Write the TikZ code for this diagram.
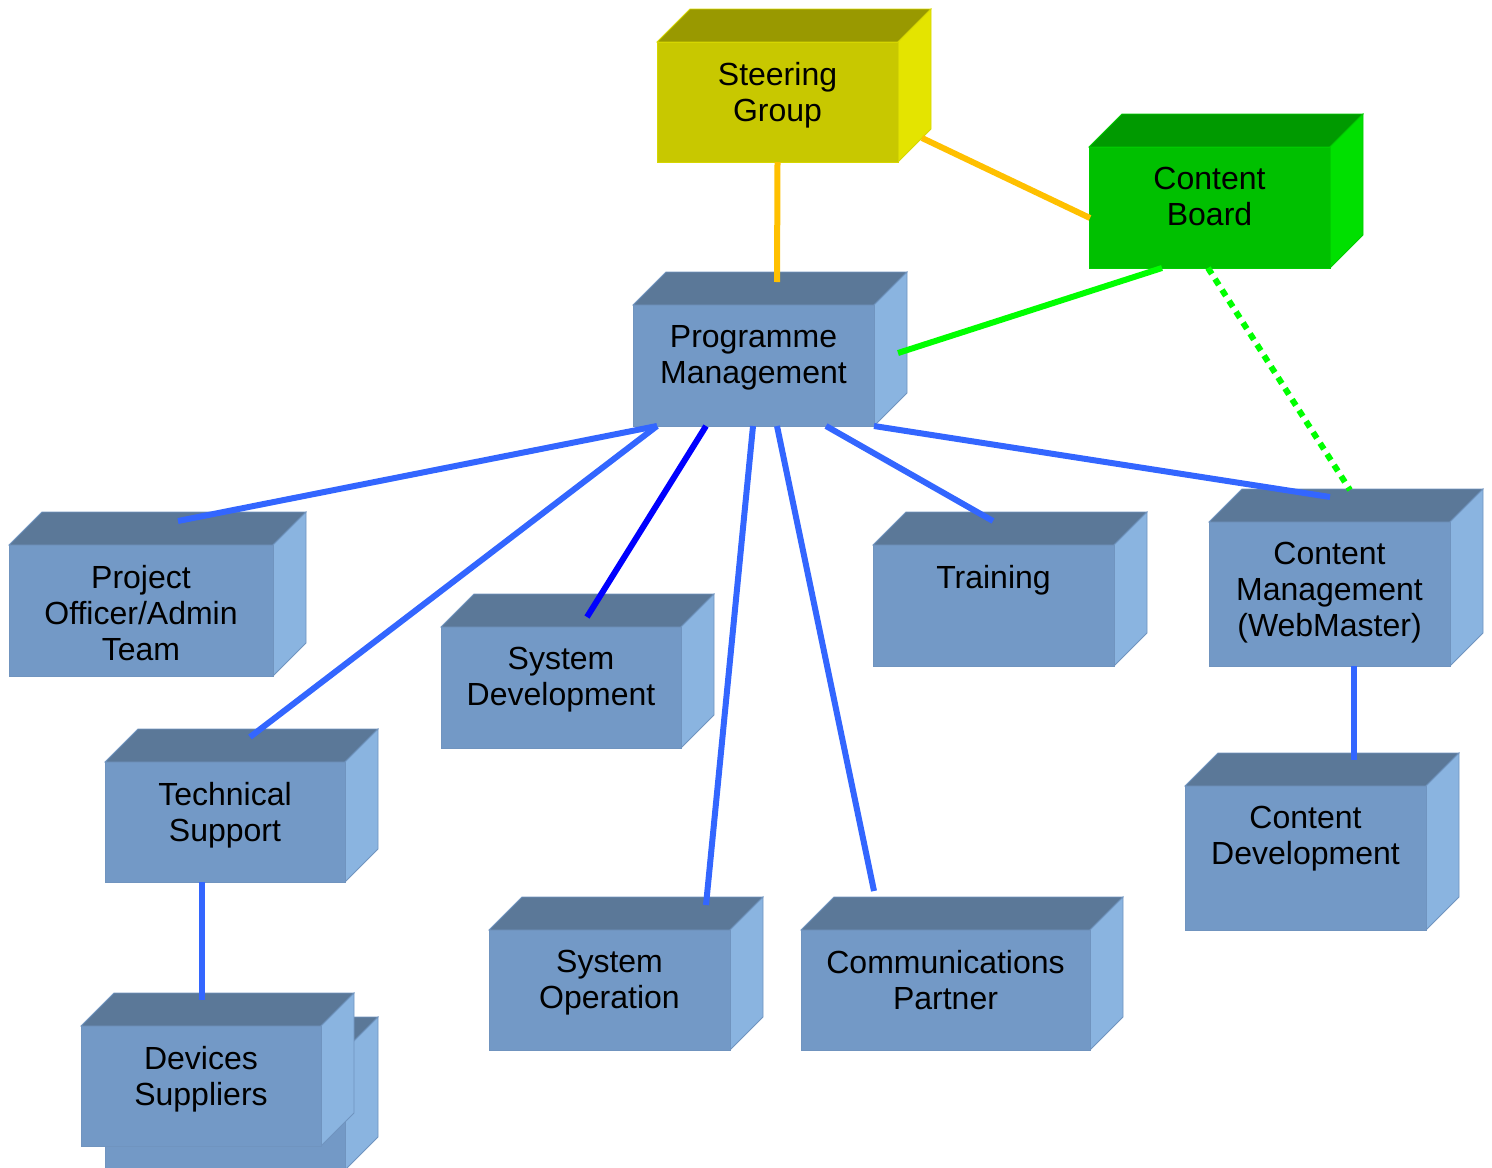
\documentclass[tikz,border=0pt]{standalone}
\usepackage{fontspec}
\setmainfont{Liberation Sans}
\usetikzlibrary{calc,fit}

% palettes: front, top, side and edge shades of each kind of block
\definecolor{bxFront}{HTML}{7399C6}
\definecolor{bxTop}{HTML}{5B7898}
\definecolor{bxSide}{HTML}{8AB4E0}
\definecolor{bxEdge}{HTML}{7094BF}
\definecolor{ywFront}{HTML}{C8C800}
\definecolor{ywTop}{HTML}{999900}
\definecolor{ywSide}{HTML}{E4E400}
\definecolor{ywEdge}{HTML}{D6D600}
\definecolor{gnFront}{HTML}{00C000}
\definecolor{gnTop}{HTML}{009A00}
\definecolor{gnSide}{HTML}{00E000}
\definecolor{gnEdge}{HTML}{00CC00}
\definecolor{linkBlue}{HTML}{3366FF}
\definecolor{linkDeep}{HTML}{0000FF}
\definecolor{linkOrange}{HTML}{FFC000}
\definecolor{linkGreen}{HTML}{00FF00}

\tikzset{
  boxlabel/.style={inner sep=0pt, align=center, text=black,
    font=\fontsize{16}{18}\selectfont},
  link/.style={line width=3pt, line cap=butt},
  bluelink/.style={link, draw=linkBlue},
  deeplink/.style={link, draw=linkDeep},
  orangelink/.style={link, draw=linkOrange},
  greenlink/.style={link, draw=linkGreen},
  dottedlink/.style={link, draw=linkGreen, dash pattern=on 3.5pt off 3pt},
}

% \solidbox{name}{x1}{y1}{x2}{y2}{palette}{label}
% front face spans (x1,y1)-(x2,y2); top and right faces are extruded by 33 units
\newcommand{\solidbox}[7]{%
  \filldraw[fill=#6Top, draw=#6Edge, line width=0.4pt]
    (#2,#3) -- ({#2+33},{#3-33}) -- ({#4+33},{#3-33}) -- (#4,#3) -- cycle;
  \filldraw[fill=#6Side, draw=#6Edge, line width=0.4pt]
    (#4,#3) -- ({#4+33},{#3-33}) -- ({#4+33},{#5-33}) -- (#4,#5) -- cycle;
  \path (#2,#3) coordinate (#1-nw) (#4,#5) coordinate (#1-se);
  \node[fit=(#1-nw)(#1-se), inner sep=0pt, outer sep=0pt,
        fill=#6Front, draw=#6Edge, line width=0.5pt] (#1) {};
  \node[boxlabel, anchor=north] (#1-label) at ($(#1.north)+(0,20)$) {#7};
}

\begin{document}
\begin{tikzpicture}[x=0.5pt, y=-0.5pt]
\useasboundingbox (0,0) rectangle (1492,1167);

% blocks
\solidbox{sg}{657}{42}{898}{162}{yw}{Steering\\Group}
\solidbox{cb}{1089}{147}{1330}{268}{gn}{Content\\Board}
\solidbox{pm}{633}{305}{874}{426}{bx}{Programme\\Management}
\solidbox{po}{9}{545}{273}{676}{bx}{Project\\Officer/Admin\\Team}
\solidbox{ts}{105}{762}{345}{882}{bx}{Technical\\Support}
\solidbox{dsback}{105}{1050}{345}{1170}{bx}{}
\solidbox{ds}{81}{1026}{321}{1146}{bx}{Devices\\Suppliers}
\solidbox{sd}{441}{627}{681}{748}{bx}{System\\Development}
\solidbox{so}{489}{930}{730}{1050}{bx}{System\\Operation}
\solidbox{cp}{801}{930}{1090}{1050}{bx}{Communications\\Partner}
\solidbox{tr}{873}{545}{1114}{666}{bx}{Training}
\solidbox{cm}{1209}{522}{1450}{666}{bx}{Content\\Management\\(WebMaster)}
\solidbox{cd}{1185}{786}{1426}{930}{bx}{Content\\Development}

% connector ends on the faces of the blocks
\coordinate (sg-down)  at (sg.south);
\coordinate (sg-side)  at ($(sg.south east)+(24,-24)$);
\coordinate (cb-left)  at ($(cb.north west)+(1,71)$);
\coordinate (cb-d1)    at ($(cb.south west)+(73,0)$);
\coordinate (cb-d2)    at ($(cb.south west)+(119,0)$);
\coordinate (pm-up)    at ($(pm.north west)+(144,-23)$);
\coordinate (pm-side)  at ($(pm.north east)+(24,48)$);
\coordinate (pm-d1)    at ($(pm.south west)+(24,0)$);
\coordinate (pm-d2)    at ($(pm.south west)+(73,0)$);
\coordinate (pm-d3)    at ($(pm.south west)+(120,0)$);
\coordinate (pm-d4)    at ($(pm.south west)+(144,0)$);
\coordinate (pm-d5)    at ($(pm.south west)+(193,0)$);
\coordinate (pm-d6)    at (pm.south east);
\coordinate (po-up)    at ($(po.north west)+(169,-24)$);
\coordinate (ts-up)    at ($(ts.north west)+(145,-25)$);
\coordinate (ts-down)  at ($(ts.south west)+(97,0)$);
\coordinate (ds-up)    at ($(ds.north west)+(121,-26)$);
\coordinate (sd-up)    at ($(sd.north west)+(146,-10)$);
\coordinate (so-up)    at ($(so.north west)+(217,-25)$);
\coordinate (cp-up)    at ($(cp.north west)+(73,-39)$);
\coordinate (tr-up)    at ($(tr.north west)+(120,-24)$);
\coordinate (cm-up1)   at ($(cm.north west)+(121,-25)$);
\coordinate (cm-up2)   at ($(cm.north west)+(141,-32)$);
\coordinate (cm-down)  at ($(cm.south west)+(145,0)$);
\coordinate (cd-up)    at ($(cd.north west)+(169,-26)$);

% connectors
\draw[orangelink] (sg-down) -- (pm-up);
\draw[orangelink] (sg-side) -- (cb-left);
\draw[greenlink]  (cb-d1) -- (pm-side);
\draw[dottedlink] (cb-d2) -- (cm-up2);
\draw[bluelink]   (pm-d1) -- (po-up);
\draw[bluelink]   (pm-d1) -- (ts-up);
\draw[deeplink]   (pm-d2) -- (sd-up);
\draw[bluelink]   (pm-d3) -- (so-up);
\draw[bluelink]   (pm-d4) -- (cp-up);
\draw[bluelink]   (pm-d5) -- (tr-up);
\draw[bluelink]   (pm-d6) -- (cm-up1);
\draw[bluelink]   (ts-down) -- (ds-up);
\draw[bluelink]   (cm-down) -- (cd-up);
\end{tikzpicture}
\end{document}
